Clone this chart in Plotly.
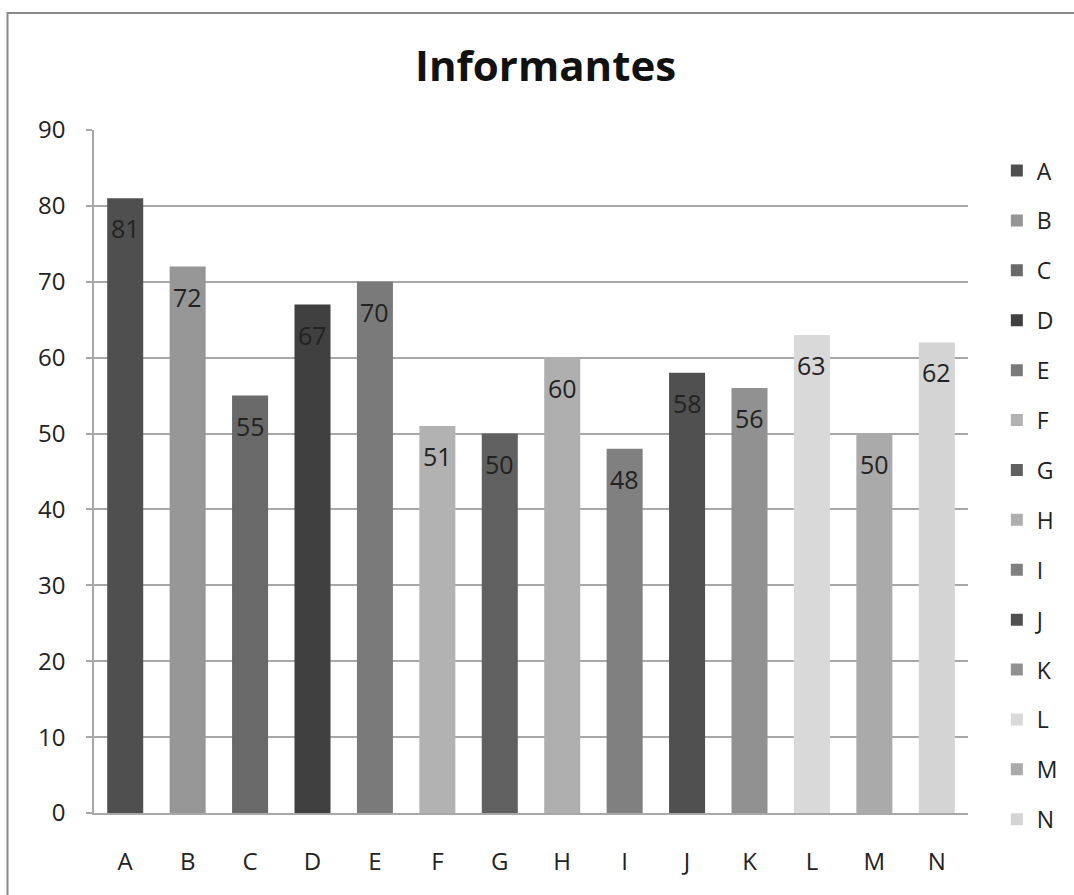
import plotly.graph_objects as go

# Categories, values and fill colours for each bar
categories = ["A", "B", "C", "D", "E", "F", "G", "H", "I", "J", "K", "L", "M", "N"]
values = [81, 72, 55, 67, 70, 51, 50, 60, 48, 58, 56, 63, 50, 62]
colors = ["#4f4f4f", "#969696", "#696969", "#404040", "#7a7a7a", "#b2b2b2", "#606060",
          "#afafaf", "#808080", "#505050", "#919191", "#d9d9d9", "#aaaaaa", "#d4d4d4"]

FONT = "Open Sans"
TEXT = "#222222"
GRID = "#a8a8a8"

fig = go.Figure()
for i, (cat, val, col) in enumerate(zip(categories, values, colors)):
    fig.add_trace(go.Bar(
        x=[cat], y=[val], name=cat,
        marker=dict(color=col, line=dict(width=0)),
        legendgroup=cat,
        hoverinfo="x+y",
    ))
    # value label just below the top of each bar
    fig.add_annotation(
        x=cat, y=val, text=str(val), showarrow=False,
        yanchor="middle", yshift=-30,
        font=dict(family=FONT, size=25, color=TEXT),
    )

fig.update_layout(
    width=1074, height=895,
    margin=dict(l=94, r=106, t=130, b=82, autoexpand=False),
    paper_bgcolor="white", plot_bgcolor="white",
    barmode="overlay", bargap=0.423,
    title=dict(
        text="<b>Informantes</b>", x=0.508, xanchor="center",
        y=1 - 66 / 895, yanchor="middle",
        font=dict(family=FONT, size=42, color="#111111"),
    ),
    font=dict(family=FONT, size=24, color=TEXT),
    legend=dict(
        x=1.033, xanchor="left", y=0.972, yanchor="top",
        font=dict(family=FONT, size=23, color=TEXT),
        tracegroupgap=17, itemwidth=30,
        maxheight=880,
        bgcolor="rgba(0,0,0,0)",
    ),
    showlegend=True,
)

fig.update_xaxes(
    categoryorder="array", categoryarray=categories,
    showline=True, linecolor=GRID, linewidth=1.5,
    showgrid=False, ticks="", ticklabelstandoff=26,
    tickfont=dict(family=FONT, size=24, color=TEXT),
)
fig.update_yaxes(
    range=[0, 90], dtick=10, tick0=0,
    showline=True, linecolor=GRID, linewidth=1.5,
    showgrid=True, gridcolor=GRID, gridwidth=1.5,
    ticks="outside", ticklen=6, tickcolor=GRID, tickwidth=1.5,
    ticklabelstandoff=16,
    tickfont=dict(family=FONT, size=24, color=TEXT),
    zeroline=False,
)

# outer frame of the chart area
fig.add_shape(
    type="rect", xref="paper", yref="paper",
    x0=(7.5 - 94) / 874, x1=1.3, y0=-0.3, y1=(813 - 13) / 683,
    line=dict(color="#8a8a8a", width=2), fillcolor="rgba(0,0,0,0)",
    layer="below",
)

fig.write_html("out.html")
